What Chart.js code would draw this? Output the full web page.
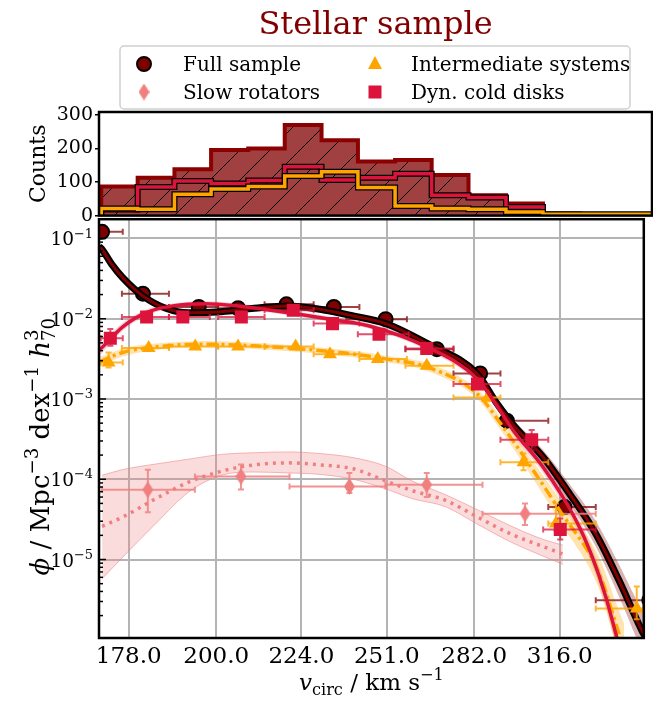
<!DOCTYPE html>
<html lang="en">
<head>
<meta charset="UTF-8">
<title>Stellar sample</title>
<script src="https://cdn.jsdelivr.net/npm/chart.js"></script>
<style>
    body { margin: 0; background: #fff; }
    #wrap { position: relative; width: 653px; height: 702px; }
    #vfCanvas { position: absolute; left: 0; top: 210px; }
    #histCanvas { position: absolute; left: 0; top: 0; }
</style>
</head>
<body>
<div id="wrap">
    <canvas id="vfCanvas" width="653" height="492"></canvas>
    <canvas id="histCanvas" width="653" height="229"></canvas>
</div>
<script>
// ---- axes ----
const vTicks = [178, 200, 224, 251, 282, 316];
const phiTicks = [1e-1, 1e-2, 1e-3, 1e-4, 1e-5];
const phiTickExp = ['−1', '−2', '−3', '−4', '−5'];
const countTicks = [0, 100, 200, 300];
const legendLabels = ['Full sample', 'Slow rotators', 'Intermediate systems', 'Dyn. cold disks'];

// ---- histogram (counts per velocity bin) ----
const histEdges = [171.6, 180.0, 188.9, 198.2, 208.1, 218.3, 229.1, 240.3, 252.3, 264.7, 277.8, 291.8, 306.3, 321.5, 337.4, 353.9];
const countsFull = [87, 113, 138, 196, 200, 270, 225, 161, 166, 121, 61, 36, 6, 3, 3];
const countsDisks = [18, 85, 103, 96, 105, 146, 106, 113, 125, 61, 54, 26, 2, 0, 0];
const countsInter = [21, 19, 64, 79, 87, 118, 131, 84, 29, 21, 19, 11, 4, 4, 4];

// ---- binned velocity function: full sample ----
const fullV = [171.8, 181.4, 195.4, 205.9, 219.6, 233.9, 250.6, 268.3, 284.2, 294.5, 318.0, 356.0];
const fullPhi = [0.121, 0.0205, 0.0140, 0.0135, 0.0151, 0.0140, 0.00986, 0.00418, 0.00208, 5.37e-4, 4.50e-5, 3.11e-6];
const fullVlo = [171.5, 176.4, 187.8, 200.5, 213.3, 227.7, 237.8, 257.3, 274.3, 292.0, 311.2, 331.5];
const fullVhi = [176.6, 187.8, 200.5, 213.3, 227.7, 242.0, 257.8, 274.3, 292.0, 311.2, 331.5, 380.0];
const fullPhiLo = [0.115, 0.0196, 0.0134, 0.0129, 0.0145, 0.0134, 0.00940, 0.00398, 0.00196, 4.90e-4, 3.70e-5, 1.8e-6];
const fullPhiHi = [0.127, 0.0214, 0.0146, 0.0141, 0.0157, 0.0146, 0.0103, 0.00438, 0.00220, 5.85e-4, 5.40e-5, 4.6e-6];

// slow rotators
const slowV = [182.6, 206.7, 238.8, 264.7, 301.7];
const slowPhi = [7.41e-5, 1.085e-4, 8.13e-5, 8.55e-5, 3.72e-5];
const slowVlo = [171.8, 194.4, 220.5, 250.6, 285.1];
const slowVhi = [194.4, 220.5, 250.6, 285.1, 331.5];
const slowPhiLo = [3.89e-5, 7.46e-5, 6.76e-5, 6.0e-5, 2.7e-5];
const slowPhiHi = [1.31e-4, 1.53e-4, 1.20e-4, 1.20e-4, 5.0e-5];

// intermediate systems
const interV = [173.3, 182.8, 194.5, 205.9, 222.3, 232.7, 248.0, 264.7, 287.2, 301.1, 314.4, 350.1];
const interPhi = [2.85e-3, 4.31e-3, 4.50e-3, 4.50e-3, 4.50e-3, 3.62e-3, 3.14e-3, 2.59e-3, 1.047e-3, 1.63e-4, 2.80e-5, 2.46e-6];
const interVlo = [171.5, 176.4, 187.8, 200.5, 213.3, 227.7, 242.0, 257.3, 274.3, 292.0, 311.2, 331.5];
const interVhi = [176.6, 187.8, 200.5, 213.3, 227.7, 242.0, 257.8, 274.3, 292.0, 311.2, 331.5, 353.0];
const interPhiLo = [2.47e-3, 4.05e-3, 4.25e-3, 4.25e-3, 4.25e-3, 3.40e-3, 2.95e-3, 2.42e-3, 9.5e-4, 1.29e-4, 2.3e-5, 1.8e-6];
const interPhiHi = [3.79e-3, 4.58e-3, 4.77e-3, 4.77e-3, 4.77e-3, 3.85e-3, 3.34e-3, 2.77e-3, 1.15e-3, 2.09e-4, 5.0e-5, 4.6e-6];

// dynamically cold disks
const diskV = [173.7, 182.3, 191.3, 206.8, 221.6, 233.5, 248.4, 264.7, 283.2, 304.4, 316.2];
const diskPhi = [5.73e-3, 0.01052, 0.01052, 0.01052, 0.01276, 8.69e-3, 6.41e-3, 4.26e-3, 1.535e-3, 3.10e-4, 2.36e-5];
const diskVlo = [171.5, 176.4, 187.8, 200.5, 213.3, 227.7, 241.5, 257.3, 274.3, 292.0, 309.1];
const diskVhi = [176.6, 187.8, 198.3, 213.3, 227.7, 242.0, 258.4, 274.3, 292.0, 311.2, 331.5];
const diskPhiLo = [4.59e-3, 0.0100, 0.0100, 0.0100, 0.0121, 8.25e-3, 6.08e-3, 4.03e-3, 1.43e-3, 2.28e-4, 1.78e-5];
const diskPhiHi = [7.46e-3, 0.0111, 0.0111, 0.0111, 0.0134, 9.15e-3, 6.76e-3, 4.50e-3, 1.65e-3, 4.12e-4, 3.24e-5];

// ---- model fits with uncertainty bands ----
const fullFitV = [171.1, 171.8, 174.0, 176.6, 181.4, 187.0, 192.8, 201.4, 210.4, 219.9, 229.6, 240.0, 250.6, 265.3, 283.2, 290.1, 297.2, 309.1, 320.1, 331.5, 341.9, 352.4, 354.0];
const fullFit = [0.0794, 0.0729, 0.0479, 0.0324, 0.0192, 0.0135, 0.0119, 0.01225, 0.0135, 0.01445, 0.01312, 0.01084, 0.00871, 0.00482, 0.00204, 9.33e-4, 4.68e-4, 1.88e-4, 6.61e-5, 2.09e-5, 5.50e-6, 1.32e-6, 1.10e-6];
const fullFitHi = [0.0911, 0.0818, 0.0525, 0.0355, 0.0206, 0.01447, 0.01276, 0.01313, 0.01447, 0.01549, 0.01406, 0.01162, 0.00934, 0.00528, 0.00229, 1.071e-3, 5.50e-4, 2.31e-4, 8.71e-5, 3.02e-5, 8.72e-6, 2.35e-6, 2.00e-6];
const fullFitLo = [0.0692, 0.0650, 0.0437, 0.0296, 0.0179, 0.01259, 0.01110, 0.01143, 0.01259, 0.01348, 0.01224, 0.01011, 0.00812, 0.00440, 0.00182, 8.13e-4, 3.98e-4, 1.53e-4, 5.02e-5, 1.45e-5, 3.47e-6, 7.42e-7, 6.04e-7];

const slowFitV = [171.8, 176.6, 184.6, 192.8, 201.4, 210.4, 219.9, 229.6, 240.0, 250.6, 259.5, 271.2, 283.2, 295.9, 309.1, 317.3];
const slowFit = [2.59e-5, 3.39e-5, 5.75e-5, 9.20e-5, 1.26e-4, 1.51e-4, 1.60e-4, 1.51e-4, 1.35e-4, 9.55e-5, 7.24e-5, 5.50e-5, 3.39e-5, 2.09e-5, 1.45e-5, 1.17e-5];
const slowFitHi = [1.12e-4, 1.32e-4, 1.55e-4, 1.78e-4, 2.04e-4, 2.14e-4, 2.19e-4, 2.09e-4, 1.86e-4, 1.45e-4, 9.55e-5, 6.46e-5, 4.17e-5, 2.63e-5, 1.78e-5, 1.51e-5];
const slowFitLo = [5.75e-6, 1.07e-5, 2.82e-5, 6.92e-5, 1.12e-4, 1.23e-4, 1.20e-4, 1.15e-4, 1.0e-4, 7.59e-5, 5.75e-5, 4.57e-5, 2.75e-5, 1.66e-5, 1.10e-5, 8.71e-6];

const interFitV = [171.1, 171.8, 176.6, 184.6, 197.1, 210.4, 224.7, 240.0, 250.6, 265.3, 283.2, 292.6, 302.4, 316.0, 333.0, 341.9, 344.3];
const interFit = [2.88e-3, 2.99e-3, 3.80e-3, 4.47e-3, 4.82e-3, 4.59e-3, 4.18e-3, 3.63e-3, 3.16e-3, 2.47e-3, 1.15e-3, 4.68e-4, 1.70e-4, 4.07e-5, 6.76e-6, 1.20e-6, 7.94e-7];
const interFitHi = [3.38e-3, 3.43e-3, 4.26e-3, 4.90e-3, 5.28e-3, 5.03e-3, 4.58e-3, 3.98e-3, 3.46e-3, 2.77e-3, 1.32e-3, 5.63e-4, 2.14e-4, 5.62e-5, 1.07e-5, 2.29e-6, 1.58e-6];
const interFitLo = [2.45e-3, 2.60e-3, 3.39e-3, 4.08e-3, 4.40e-3, 4.19e-3, 3.81e-3, 3.31e-3, 2.88e-3, 2.20e-3, 1.00e-3, 3.89e-4, 1.35e-4, 2.95e-5, 4.27e-6, 6.30e-7, 3.98e-7];

const diskFitV = [171.1, 171.8, 176.6, 182.2, 188.7, 197.1, 205.9, 215.1, 224.7, 234.8, 245.2, 265.3, 283.2, 290.1, 297.2, 309.1, 322.9, 330.0, 335.9, 341.2];
const diskFit = [4.07e-3, 4.38e-3, 7.94e-3, 0.01191, 0.01445, 0.01542, 0.01445, 0.01276, 0.01114, 9.57e-3, 8.13e-3, 4.37e-3, 1.78e-3, 8.71e-4, 3.98e-4, 1.41e-4, 3.09e-5, 1.07e-5, 3.47e-6, 1.0e-6];
const diskFitHi = [4.89e-3, 5.15e-3, 8.91e-3, 0.01305, 0.01549, 0.01653, 0.01549, 0.01368, 0.01194, 0.01026, 8.72e-3, 4.79e-3, 2.00e-3, 9.77e-4, 4.57e-4, 1.66e-4, 3.80e-5, 1.38e-5, 4.68e-6, 1.41e-6];
const diskFitLo = [3.39e-3, 3.73e-3, 7.08e-3, 0.01087, 0.01348, 0.01438, 0.01348, 0.01190, 0.01039, 8.93e-3, 7.58e-3, 3.99e-3, 1.59e-3, 7.76e-4, 3.47e-4, 1.20e-4, 2.51e-5, 8.31e-6, 2.57e-6, 7.08e-7];

// ---- colours ----
const cFull = '#800000', cSlow = '#f08080', cInter = '#ffa500', cDisk = '#dc143c';
const FONT = '"DejaVu Serif", serif';
const vMin = 171.1, vMax = 353.4;

Chart.defaults.font.family = FONT;
Chart.defaults.color = '#000';

const pts = (xs, ys) => xs.map((x, i) => ({ x: x, y: ys[i] }));

// outline of a histogram, one point per left bin edge plus closing edge
function stepPoints(counts) {
    const out = [{ x: histEdges[0], y: 0 }];
    counts.forEach((c, i) => out.push({ x: histEdges[i], y: c }));
    out.push({ x: histEdges[counts.length], y: counts[counts.length - 1] });
    out.push({ x: histEdges[counts.length], y: 0 });
    return out;
}

function makeHatch() {
    const c = document.createElement('canvas');
    c.width = 30; c.height = 30;
    const g = c.getContext('2d');
    g.fillStyle = '#a04040';
    g.fillRect(0, 0, 30, 30);
    g.strokeStyle = '#000';
    g.lineWidth = 1;
    g.beginPath();
    g.moveTo(-2, 32); g.lineTo(32, -2);
    g.stroke();
    return g.createPattern(c, 'repeat');
}

function thinDiamond(w, h, color) {
    const c = document.createElement('canvas');
    c.width = w; c.height = h;
    const g = c.getContext('2d');
    g.fillStyle = color;
    g.beginPath();
    g.moveTo(w / 2, 0); g.lineTo(w, h / 2); g.lineTo(w / 2, h); g.lineTo(0, h / 2);
    g.closePath();
    g.fill();
    return c;
}
const diamond = thinDiamond(11, 17, cSlow);

// text with italic / super- / subscript runs
function setRunFont(ctx, p, size) {
    const sz = p.s ? size * 0.7 : size;
    ctx.font = (p.i ? 'italic ' : '') + sz + 'px ' + FONT;
}
function richWidth(ctx, parts, size) {
    let w = 0, held = 0;
    parts.forEach(p => {
        setRunFont(ctx, p, size);
        const pw = ctx.measureText(p.t).width;
        if (p.keep) held = pw; else { w += Math.max(pw, held); held = 0; }
    });
    return w;
}
function drawRich(ctx, parts, x0, y, size, align) {
    let x = align === 'right' ? x0 - richWidth(ctx, parts, size) : x0 - richWidth(ctx, parts, size) / 2;
    let held = 0;
    ctx.textAlign = 'left';
    ctx.textBaseline = 'alphabetic';
    parts.forEach(p => {
        setRunFont(ctx, p, size);
        const dy = p.s === 'sup' ? -0.42 * size : (p.s === 'sub' ? 0.22 * size : 0);
        ctx.fillText(p.t, x, y + dy);
        const pw = ctx.measureText(p.t).width;
        if (p.keep) held = pw; else { x += Math.max(pw, held); held = 0; }
    });
}

const xLabel = [{ t: 'v', i: true }, { t: 'circ', s: 'sub' }, { t: ' / km s' }, { t: '−1', s: 'sup' }];
const yLabel = [{ t: 'ϕ', i: true }, { t: ' / Mpc' }, { t: '−3', s: 'sup' }, { t: ' dex' }, { t: '−1', s: 'sup' },
                { t: ' h', i: true }, { t: '3', s: 'sup', keep: true }, { t: '70', s: 'sub' }];

function strokeFrame(chart) {
    const a = chart.chartArea, ctx = chart.ctx;
    ctx.save();
    ctx.strokeStyle = '#000';
    ctx.lineWidth = 2.5;
    ctx.strokeRect(a.left, a.top, a.right - a.left, a.bottom - a.top);
    ctx.restore();
}

// error bars are drawn just before the markers of the same series
const errorBars = {
    id: 'errorBars',
    beforeDatasetDraw(chart, args) {
        const ds = chart.data.datasets[args.index];
        if (!ds.errBars) return;
        const e = ds.errBars, xs = chart.scales.x, ys = chart.scales.y, ctx = chart.ctx, a = chart.chartArea;
        ctx.save();
        ctx.beginPath();
        ctx.rect(a.left, a.top, a.right - a.left, a.bottom - a.top);
        ctx.clip();
        ctx.strokeStyle = e.color;
        ctx.lineWidth = 2;
        e.v.forEach((v, i) => {
            const px = xs.getPixelForValue(v), py = ys.getPixelForValue(e.phi[i]);
            const x0 = xs.getPixelForValue(e.vlo[i]), x1 = xs.getPixelForValue(e.vhi[i]);
            const y0 = ys.getPixelForValue(e.lo[i]), y1 = ys.getPixelForValue(e.hi[i]);
            ctx.beginPath();
            ctx.moveTo(x0, py); ctx.lineTo(x1, py);
            ctx.moveTo(x0, py - 3); ctx.lineTo(x0, py + 3);
            ctx.moveTo(x1, py - 3); ctx.lineTo(x1, py + 3);
            ctx.moveTo(px, y0); ctx.lineTo(px, y1);
            ctx.moveTo(px - 3, y0); ctx.lineTo(px + 3, y0);
            ctx.moveTo(px - 3, y1); ctx.lineTo(px + 3, y1);
            ctx.stroke();
        });
        ctx.restore();
    }
};

const vfDecor = {
    id: 'vfDecor',
    afterDraw(chart) {
        const ctx = chart.ctx, a = chart.chartArea, ys = chart.scales.y;
        strokeFrame(chart);
        ctx.save();
        ctx.strokeStyle = '#000';
        ctx.lineWidth = 1.5;
        for (let e = -6; e <= -1; e++) {
            for (let m = 1; m <= 9; m++) {
                const v = m * Math.pow(10, e);
                if (v < ys.min || v > ys.max) continue;
                const py = ys.getPixelForValue(v);
                ctx.beginPath();
                ctx.moveTo(a.left, py);
                ctx.lineTo(a.left + (m === 1 ? 7 : 4), py);
                ctx.stroke();
            }
        }
        ctx.fillStyle = '#000';
        // y tick labels as 10 with a raised exponent
        phiTicks.forEach((v, i) => {
            drawRich(ctx, [{ t: '10' }, { t: phiTickExp[i], s: 'sup' }], a.left - 6, ys.getPixelForValue(v) + 7, 18.5, 'right');
        });
        drawRich(ctx, xLabel, (a.left + a.right) / 2, 480, 23);
        ctx.translate(40, (a.top + a.bottom) / 2 + 18);
        ctx.rotate(-Math.PI / 2);
        drawRich(ctx, yLabel, 0, 9, 26);
        ctx.restore();
    }
};

function drawLegendMarker(ctx, kind, x, y) {
    ctx.save();
    if (kind === 0) {
        ctx.beginPath(); ctx.arc(x, y, 7, 0, Math.PI * 2);
        ctx.fillStyle = cFull; ctx.fill();
        ctx.lineWidth = 2; ctx.strokeStyle = '#000'; ctx.stroke();
    } else if (kind === 1) {
        ctx.drawImage(diamond, x - diamond.width / 2, y - diamond.height / 2);
    } else if (kind === 2) {
        ctx.beginPath();
        ctx.moveTo(x, y - 8); ctx.lineTo(x + 7, y + 5); ctx.lineTo(x - 7, y + 5);
        ctx.closePath(); ctx.fillStyle = cInter; ctx.fill();
    } else {
        ctx.fillStyle = cDisk; ctx.fillRect(x - 6.5, y - 6.5, 13, 13);
    }
    ctx.restore();
}

const histDecor = {
    id: 'histDecor',
    afterDraw(chart) {
        const ctx = chart.ctx, a = chart.chartArea;
        strokeFrame(chart);
        ctx.save();
        // title
        ctx.fillStyle = cFull;
        ctx.font = '32px ' + FONT;
        ctx.textAlign = 'center';
        ctx.textBaseline = 'alphabetic';
        ctx.fillText('Stellar sample', (a.left + a.right) / 2, 34);
        // legend box
        ctx.beginPath();
        ctx.roundRect(120, 46, 510, 63, 4);
        ctx.fillStyle = 'rgba(255,255,255,0.85)';
        ctx.fill();
        ctx.strokeStyle = '#d0d0d0';
        ctx.lineWidth = 1.5;
        ctx.stroke();
        const colX = [144, 375], textX = [183, 411], rowY = [64, 92];
        ctx.font = '20px ' + FONT;
        ctx.textAlign = 'left';
        legendLabels.forEach((lab, k) => {
            const col = k < 2 ? 0 : 1, row = k % 2;
            drawLegendMarker(ctx, k, colX[col], rowY[row]);
            ctx.fillStyle = '#000';
            ctx.fillText(lab, textX[col], rowY[row] + 7);
        });
        // y label
        ctx.translate(37, (a.top + a.bottom) / 2);
        ctx.rotate(-Math.PI / 2);
        ctx.font = '22px ' + FONT;
        ctx.textAlign = 'center';
        ctx.fillText('Counts', 0, 8);
        ctx.restore();
    }
};

// ---- top panel: histogram ----
new Chart(document.getElementById('histCanvas'), {
    type: 'scatter',
    data: {
        datasets: [
            { data: stepPoints(countsFull), showLine: true, stepped: 'before', fill: 'origin', backgroundColor: makeHatch(),
              borderColor: '#8b0000', borderWidth: 4, pointRadius: 0, order: 5 },
            { data: stepPoints(countsDisks), showLine: true, stepped: 'before', borderColor: '#000', borderWidth: 6, pointRadius: 0, order: 4 },
            { data: stepPoints(countsDisks), showLine: true, stepped: 'before', borderColor: cDisk, borderWidth: 3.5, pointRadius: 0, order: 3 },
            { data: stepPoints(countsInter), showLine: true, stepped: 'before', borderColor: '#000', borderWidth: 6, pointRadius: 0, order: 2 },
            { data: stepPoints(countsInter), showLine: true, stepped: 'before', borderColor: cInter, borderWidth: 3.5, pointRadius: 0, order: 1 }
        ]
    },
    options: {
        responsive: false,
        animation: false,
        events: [],
        layout: { padding: { top: 112, right: 1, left: 0, bottom: 0 } },
        plugins: { legend: { display: false }, tooltip: { enabled: false } },
        scales: {
            x: {
                type: 'logarithmic', min: vMin, max: vMax,
                ticks: { display: false },
                grid: { display: false, drawTicks: false },
                border: { display: false },
                afterFit: s => { s.height = 12; }
            },
            y: {
                min: 0, max: 309,
                afterBuildTicks: s => { s.ticks = countTicks.map(v => ({ value: v })); },
                ticks: { font: { size: 19 }, padding: 2, color: '#000' },
                grid: { drawOnChartArea: false, tickLength: 4, color: '#000', lineWidth: 1.5 },
                border: { display: false },
                afterFit: s => { s.width = 99; }
            }
        }
    },
    plugins: [histDecor]
});

// ---- main panel: velocity function ----
const line = (xs, ys, color, width, order, extra) => Object.assign({
    data: pts(xs, ys), showLine: true, pointRadius: 0, borderColor: color, borderWidth: width,
    fill: false, cubicInterpolationMode: 'monotone', order: order
}, extra || {});
const band = (xs, hi, lo, color, edge, order) => [
    { data: pts(xs, hi), showLine: true, pointRadius: 0, borderWidth: edge ? 1 : 0, borderColor: edge || 'rgba(0,0,0,0)',
      fill: '+1', backgroundColor: color, cubicInterpolationMode: 'monotone', order: order },
    { data: pts(xs, lo), showLine: true, pointRadius: 0, borderWidth: edge ? 1 : 0, borderColor: edge || 'rgba(0,0,0,0)',
      fill: false, cubicInterpolationMode: 'monotone', order: order }
];
// markers are cut at the axes frame
const markers = (xs, ys, style, radius, color, order, err, extra) => Object.assign({
    data: pts(xs, ys), showLine: false, pointStyle: style, pointRadius: radius,
    pointBackgroundColor: color, pointBorderWidth: 0, clip: 0, order: order, errBars: err
}, extra || {});

new Chart(document.getElementById('vfCanvas'), {
    type: 'scatter',
    data: {
        datasets: [
            ...band(slowFitV, slowFitHi, slowFitLo, 'rgba(240,128,128,0.28)', 'rgba(240,128,128,0.55)', 100),
            ...band(interFitV, interFitHi, interFitLo, 'rgba(255,165,0,0.3)', null, 100),
            ...band(diskFitV, diskFitHi, diskFitLo, 'rgba(220,20,60,0.2)', null, 100),
            ...band(fullFitV, fullFitHi, fullFitLo, 'rgba(128,0,0,0.3)', null, 100),

            markers(fullV, fullPhi, 'circle', 7, cFull, 90,
                { v: fullV, phi: fullPhi, vlo: fullVlo, vhi: fullVhi, lo: fullPhiLo, hi: fullPhiHi, color: 'rgba(139,20,20,0.8)' },
                { pointBorderColor: '#000', pointBorderWidth: 2 }),
            line(fullFitV, fullFit, '#000', 7, 85),
            line(fullFitV, fullFit, cFull, 3, 84),

            line(slowFitV, slowFit, cSlow, 3.5, 80, { borderDash: [3, 5] }),
            markers(slowV, slowPhi, diamond, 8, cSlow, 79,
                { v: slowV, phi: slowPhi, vlo: slowVlo, vhi: slowVhi, lo: slowPhiLo, hi: slowPhiHi, color: 'rgba(240,128,128,0.85)' }),

            line(interFitV, interFit, cInter, 3.5, 70, { borderDash: [11, 4, 3, 4] }),
            markers(interV, interPhi, 'triangle', 8, cInter, 69,
                { v: interV, phi: interPhi, vlo: interVlo, vhi: interVhi, lo: interPhiLo, hi: interPhiHi, color: 'rgba(255,165,0,0.8)' }),

            line(diskFitV, diskFit, cDisk, 3.5, 60),
            markers(diskV, diskPhi, 'rect', 9.2, cDisk, 59,
                { v: diskV, phi: diskPhi, vlo: diskVlo, vhi: diskVhi, lo: diskPhiLo, hi: diskPhiHi, color: 'rgba(220,20,60,0.75)' })
        ]
    },
    options: {
        responsive: false,
        animation: false,
        events: [],
        layout: { padding: { top: 8, right: 1, left: 0, bottom: 0 } },
        plugins: { legend: { display: false }, tooltip: { enabled: false } },
        scales: {
            x: {
                type: 'logarithmic', min: vMin, max: vMax,
                afterBuildTicks: s => { s.ticks = vTicks.map(v => ({ value: v })); },
                ticks: { callback: v => Number(v).toFixed(1), font: { size: 23 }, padding: 5, color: '#000', maxRotation: 0, autoSkip: false },
                grid: { color: '#b4b4b4', lineWidth: 2, drawTicks: false },
                border: { display: false },
                afterFit: s => { s.height = 64; }
            },
            y: {
                type: 'logarithmic', min: 1.052e-6, max: 0.1738,
                afterBuildTicks: s => { s.ticks = phiTicks.map(v => ({ value: v })); },
                ticks: { display: false },
                grid: { color: '#b4b4b4', lineWidth: 2, drawTicks: false },
                border: { display: false },
                afterFit: s => { s.width = 99; }
            }
        }
    },
    plugins: [errorBars, vfDecor]
});
</script>
</body>
</html>
